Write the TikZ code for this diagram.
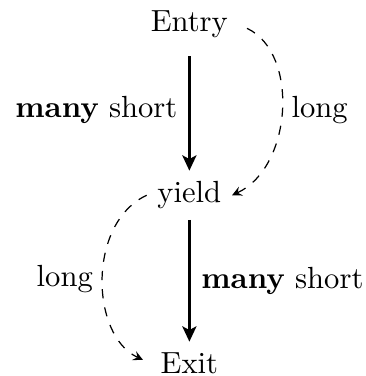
\documentclass[tikz,border=0pt]{standalone}
\usepackage{tikz}
\usetikzlibrary{positioning, arrows.meta}

\begin{document}
\begin{tikzpicture}[>=stealth, node distance=1.4cm,
        fast/.style={-{Stealth[length=5pt, width=4.6pt, inset=1.2pt]}, very thick},
        slow/.style={->, dashed}]
    \useasboundingbox (-61.9pt,8pt) rectangle (57.7pt,-114.9pt);

    \node (entry) at (0,0) {Entry};
    \node (yield) [below=of entry] {yield};
    \node (exit) [below=of yield] {Exit};

    % fast path: many short steps
    \draw[fast, shorten <=2.5pt] (entry) -- node[left] {\textbf{many} short} (yield);
    \draw[fast] (yield) -- node[right] {\textbf{many} short} (exit);

    % slow path: one long step
    \draw[slow, shorten <=3pt] (entry.east) to[out=-25, in=25] node[right] {long} (yield.east);
    \draw[slow, shorten >=2.5pt] (yield.west) to[out=205, in=155] node[left] {long} (exit.west);
\end{tikzpicture}
\end{document}
